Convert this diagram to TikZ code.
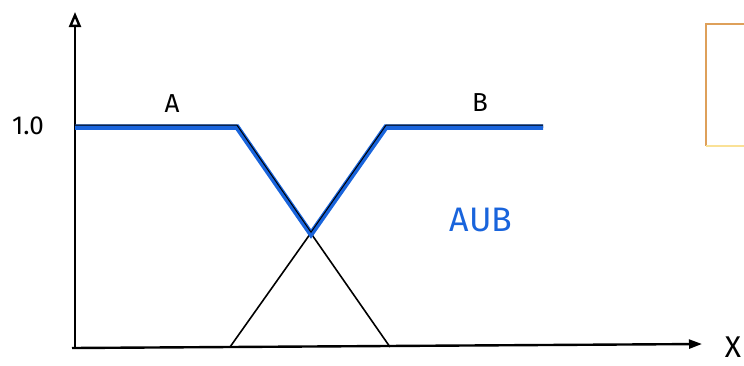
\documentclass[tikz,border=0pt]{standalone}
\usepackage{fontspec}
\usepackage{tikz}
\usetikzlibrary{arrows.meta}
\setsansfont{Fira Sans}
\tikzset{
  axis/.style={line width=2.4pt},
  member/.style={line width=1.6pt},
  unionline/.style={line width=5.5pt, draw={rgb,255:red,25;green,100;blue,220}, line join=miter},
  lbl/.style={font=\sffamily\fontsize{26}{30}\selectfont},
}
\definecolor{boxorange}{RGB}{222,160,90}
\definecolor{boxyellow}{RGB}{250,225,150}
\begin{document}
\begin{tikzpicture}[x=1pt,y=-1pt]
\useasboundingbox (0,0) rectangle (744,365);
\clip (0,0) rectangle (744,365);
% axes
\coordinate (o) at (75,348);
\coordinate (ytip) at (75,12);
\coordinate (xtip) at (702,344);
\draw[axis,-{Triangle[open,length=15pt,width=12pt,line width=2.4pt]}] (o) -- (ytip);
\draw[axis,-{Triangle[length=13pt,width=9pt]}] (72,348) -- (xtip);
\node[lbl,font=\sffamily\fontsize{30}{34}\selectfont,anchor=north,inner sep=0pt] (xlab) at (733,337) {X};
\node[lbl] (one) at (28,126) {1.0};
% membership functions
\coordinate (a0) at (75,127);
\coordinate (a1) at (237,127);
\coordinate (a2) at (390,347);
\coordinate (b0) at (230,347);
\coordinate (b1) at (386,127);
\coordinate (b2) at (543,127);
\coordinate (m) at (311,234);
\draw[member] (a0) -- (a1) -- (a2);
\draw[member] (b0) -- (b1) -- (b2);
\draw[unionline] (a0) -- (a1) -- (m) -- (b1) -- (b2);
\draw[line width=1pt] ([yshift=1.8pt]a0) -- ([yshift=1.8pt]a1) -- ([yshift=1.8pt]m) -- ([yshift=1.8pt]b1) -- ([yshift=1.8pt]b2);
\node[lbl] (la) at (172,104) {A};
\node[lbl] (lb) at (480,103) {B};
\node[lbl,font=\sffamily\fontsize{34}{38}\selectfont,text={rgb,255:red,25;green,100;blue,220}] (lu) at (481,220) {AUB};
% box at the edge
\draw[boxorange,line width=2.5pt] (760,24) -- (706,24) -- (706,146);
\draw[boxyellow,line width=2pt] (706,146) -- (760,146);
\end{tikzpicture}
\end{document}
